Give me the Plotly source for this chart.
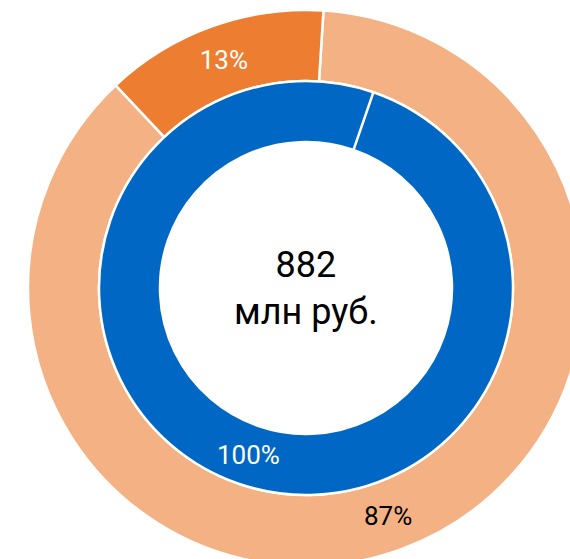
import math
import plotly.graph_objects as go

# внешнее кольцо
outer_labels = ["Часть 1", "Часть 2"]
outer_values = [87, 13]
outer_text = ["87%", "13%"]
outer_colors = ["#F4B183", "#ED7D31"]
outer_text_colors = ["black", "white"]

# внутреннее кольцо (вторая доля нулевая - только разделитель)
inner_labels = ["Всего", "Прочее"]
inner_values = [100, 0]
inner_text = ["100%", ""]
inner_colors = ["#0068C4", "#0068C4"]

total_value = 882
total_unit = "млн руб."

W, H = 612, 576
cx, cy = 306, 288
r_outer, r_inner, r_hole = 278, 207, 146
inner_rotation = 19


def box(r):
    # домен пирога в долях бумаги
    return dict(x=[(cx - r) / W, (cx + r) / W],
                y=[(H - cy - r) / H, (H - cy + r) / H])


fig = go.Figure()

fig.add_trace(go.Pie(
    labels=outer_labels,
    values=outer_values,
    text=outer_text,
    textinfo="text",
    textposition="inside",
    insidetextorientation="horizontal",
    textfont=dict(size=26, color=outer_text_colors, family="Roboto"),
    marker=dict(colors=outer_colors, line=dict(color="white", width=2.5)),
    hole=r_inner / r_outer,
    sort=False,
    direction="clockwise",
    rotation=3.6,
    domain=box(r_outer),
    hoverinfo="label+value",
))

fig.add_trace(go.Pie(
    labels=inner_labels,
    values=inner_values,
    text=inner_text,
    textinfo="none",
    marker=dict(colors=inner_colors, line=dict(color="white", width=2.5)),
    hole=r_hole / r_inner,
    sort=False,
    direction="clockwise",
    rotation=inner_rotation,
    domain=box(r_inner),
    hoverinfo="label+value",
))

# подпись внутреннего кольца - по середине первой доли
mid = math.radians(inner_rotation + 360 * inner_values[0] / 2 / sum(inner_values))
r_mid = (r_inner + r_hole) / 2
fig.add_annotation(
    text=inner_text[0],
    x=(cx + r_mid * math.sin(mid)) / W,
    y=1 - (cy - r_mid * math.cos(mid)) / H,
    xref="paper", yref="paper",
    xanchor="center", yanchor="middle",
    showarrow=False,
    font=dict(size=26, color="white", family="Roboto"),
)

fig.add_annotation(
    text=f"{total_value}<br>{total_unit}",
    x=0.5, y=0.5, xref="paper", yref="paper",
    xanchor="center", yanchor="middle",
    showarrow=False,
    font=dict(size=36, color="black", family="Roboto"),
)

fig.update_layout(
    width=W, height=H,
    margin=dict(l=0, r=0, t=0, b=0),
    showlegend=False,
    paper_bgcolor="white",
    font=dict(family="Roboto"),
)

fig.write_html(
    "out.html",
    config={"displayModeBar": False},
    post_script="document.body.style.margin='0';document.body.style.overflow='hidden';",
)
